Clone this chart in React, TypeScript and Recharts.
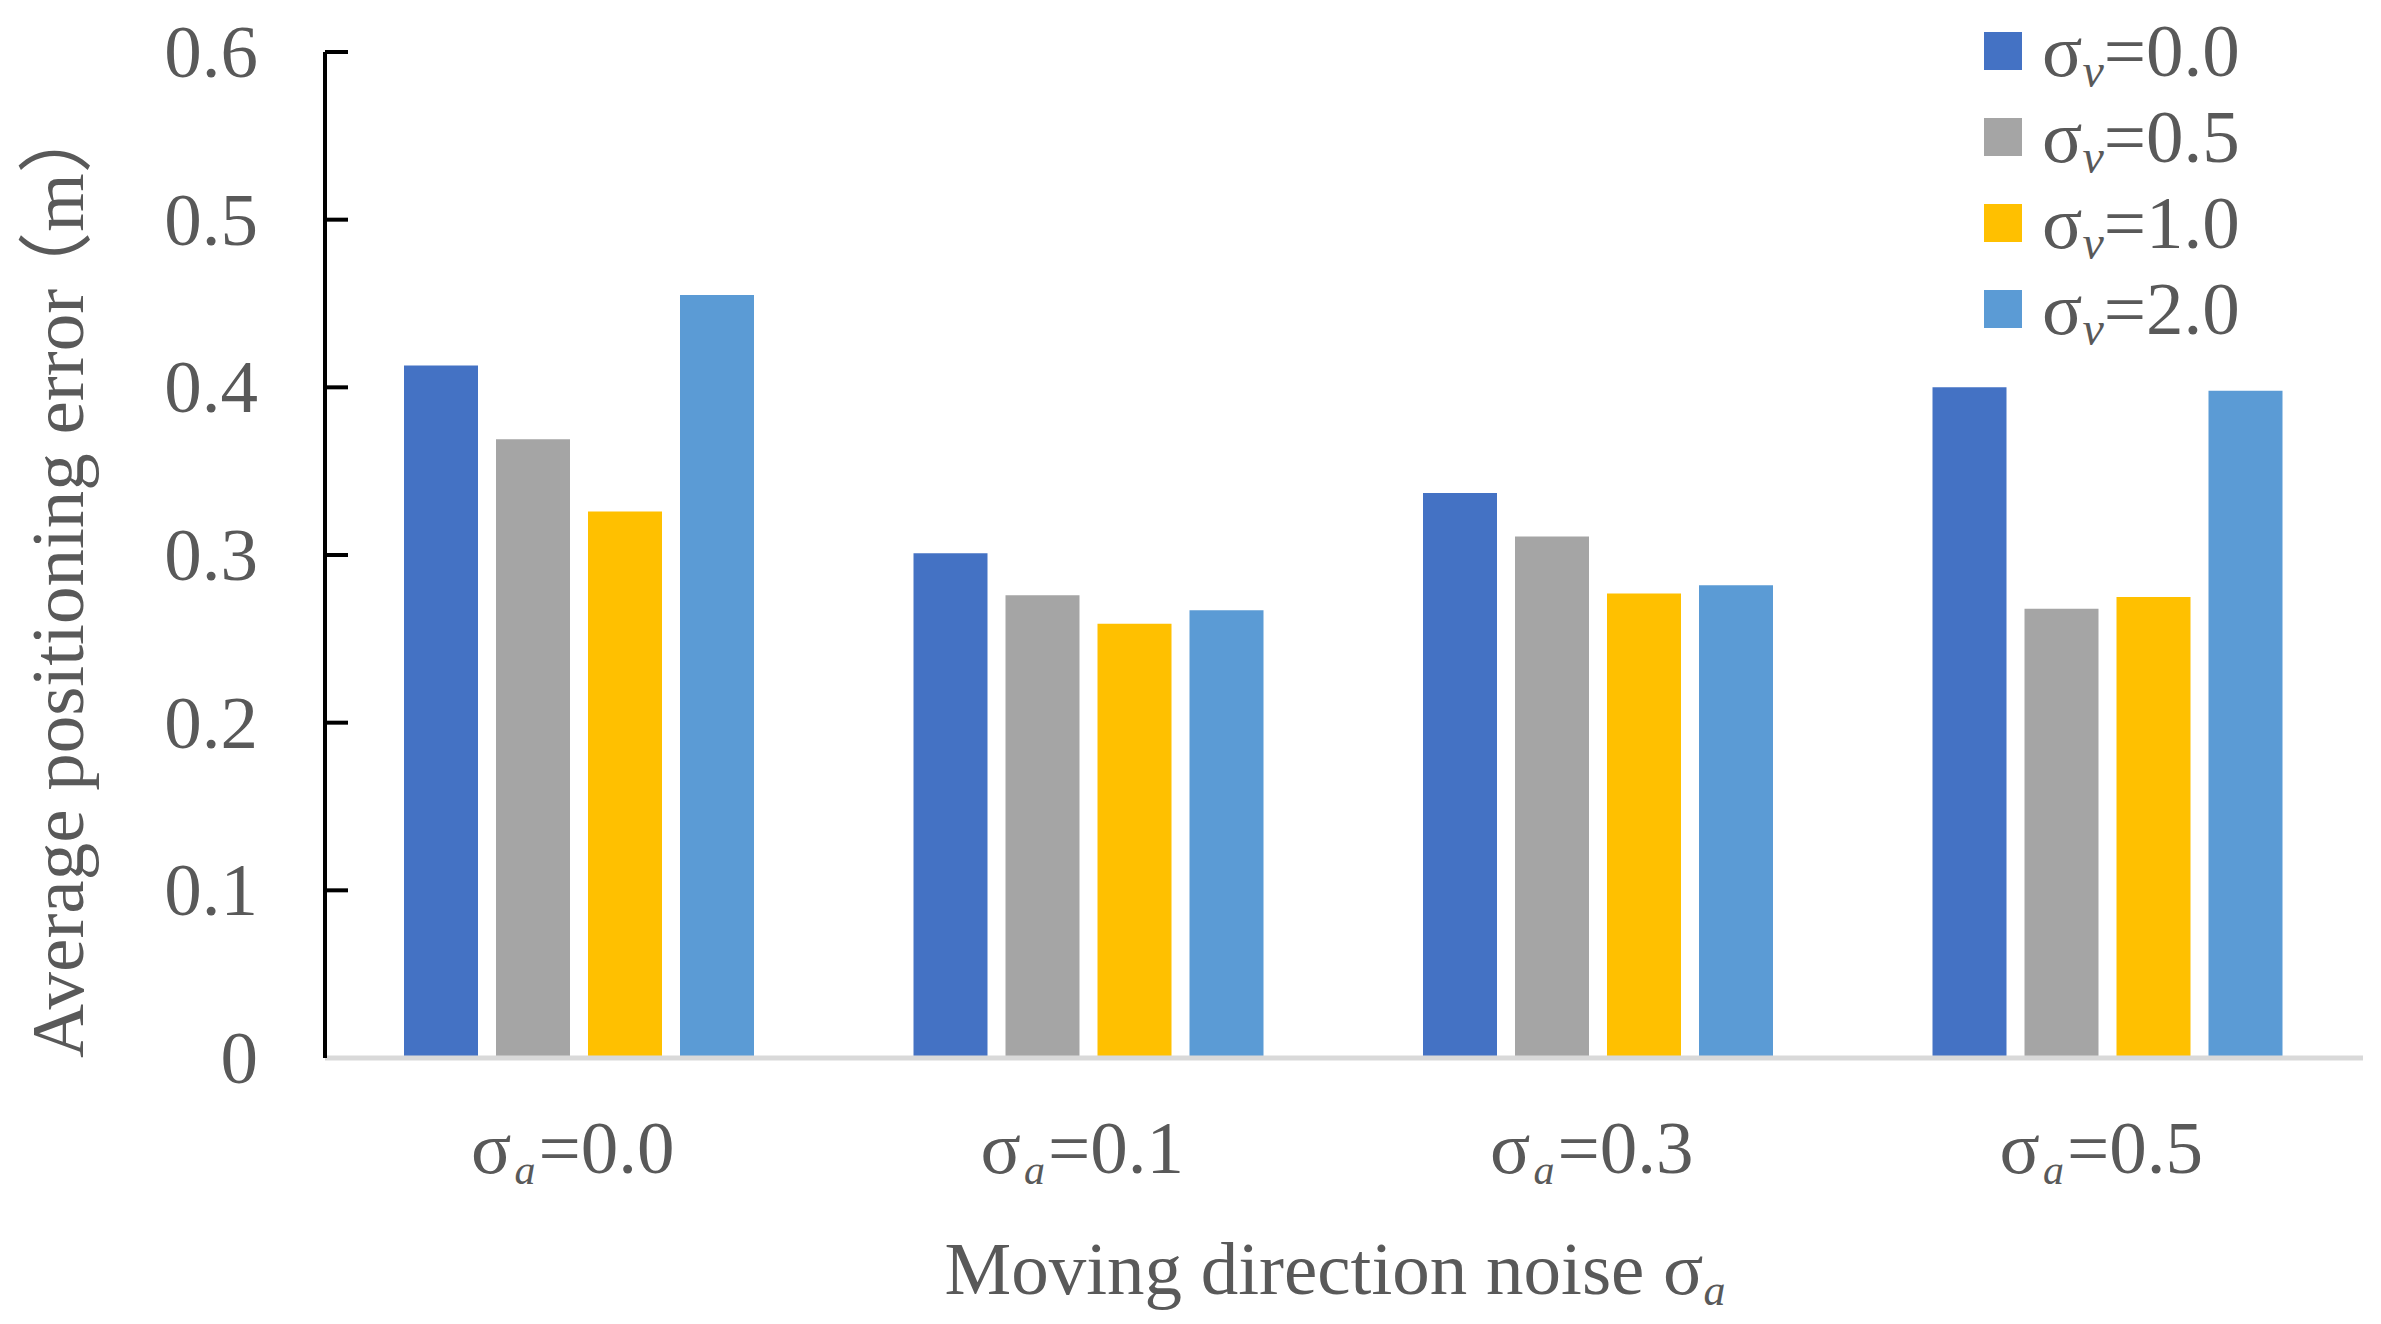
import { BarChart, Bar, XAxis, YAxis, Legend, Label } from "recharts";

const CATEGORIES = ["0.0", "0.1", "0.3", "0.5"];
const SIGMA_V_00 = [0.413, 0.301, 0.337, 0.4];
const SIGMA_V_05 = [0.369, 0.276, 0.311, 0.268];
const SIGMA_V_10 = [0.326, 0.259, 0.277, 0.275];
const SIGMA_V_20 = [0.455, 0.267, 0.282, 0.398];
const SERIES_LABELS = ["0.0", "0.5", "1.0", "2.0"];
const Y_TICKS = [0, 0.1, 0.2, 0.3, 0.4, 0.5, 0.6];

const COLORS = ["#4472C4", "#A5A5A5", "#FFC000", "#5B9BD5"];
const FONT = "'Liberation Serif', 'Times New Roman', 'Noto Sans CJK SC', serif";
const TEXT = "#595959";
const FS = 75;

const data = CATEGORIES.map((name, i) => ({
  name,
  v00: SIGMA_V_00[i],
  v05: SIGMA_V_05[i],
  v10: SIGMA_V_10[i],
  v20: SIGMA_V_20[i],
}));

const Y_TICK_MARGIN = 67;

function YTick(props: any) {
  const { x, y, payload } = props;
  const v = payload.value as number;
  return (
    <g>
      {v !== 0 && (
        <line x1={x + Y_TICK_MARGIN} x2={x + Y_TICK_MARGIN + 23} y1={y} y2={y} stroke="#000" strokeWidth={4} />
      )}
      <text x={x} y={y} dy={25} textAnchor="end" fontFamily={FONT} fontSize={FS} fill={TEXT}>
        {v === 0 ? "0" : v.toFixed(1)}
      </text>
    </g>
  );
}

function XTick(props: any) {
  const { x, y, payload } = props;
  return (
    <text x={x - 7} y={y + 115} textAnchor="middle" fontFamily={FONT} fontSize={FS} fill={TEXT}>
      σ
      <tspan fontStyle="italic" fontSize={42} dx={3} dy={11}>a</tspan>
      <tspan dx={3} dy={-11}>={payload.value}</tspan>
    </text>
  );
}

function XTitle() {
  return (
    <text x={1335} y={1294} textAnchor="middle" fontFamily={FONT} fontSize={FS} fill={TEXT}>
      Moving direction noise σ
      <tspan fontStyle="italic" fontSize={44} dy={11}>a</tspan>
    </text>
  );
}

function YTitle() {
  return (
    <text
      x={83}
      y={1058}
      transform="rotate(-90 83 1058)"
      textAnchor="start"
      fontFamily={FONT}
      fontSize={FS}
      fill={TEXT}
    >
      Average positioning error
      <tspan dx={-18}>（m）</tspan>
    </text>
  );
}

function LegendBox(props: any) {
  const items = props.payload ?? [];
  return (
    <svg width={420} height={360} style={{ display: "block" }}>
      {items.map((it: any, i: number) => (
        <g key={i}>
          <rect x={24} y={32 + i * 86} width={38} height={38} fill={it.color} />
          <text x={82} y={76 + i * 86} fontFamily={FONT} fontSize={FS} fill={TEXT}>
            σ
            <tspan fontStyle="italic" fontSize={48} dy={11}>v</tspan>
            <tspan dy={-11}>={it.value}</tspan>
          </text>
        </g>
      ))}
    </svg>
  );
}

export default function App() {
  return (
    <div style={{ position: "absolute", left: 0, top: 0, background: "#fff" }}>
      <BarChart
        width={2381}
        height={1324}
        data={data}
        margin={{ top: 52, right: 18, left: 0, bottom: 66 }}
        barCategoryGap={79}
        barGap={18}
      >
        <XAxis
          dataKey="name"
          height={200}
          tickSize={0}
          tickMargin={0}
          tickLine={false}
          axisLine={{ stroke: "#D9D9D9", strokeWidth: 5 }}
          tick={<XTick />}
          interval={0}
        >
          <Label content={<XTitle />} />
        </XAxis>
        <YAxis
          width={325}
          domain={[0, 0.6]}
          ticks={Y_TICKS}
          interval={0}
          tickSize={0}
          tickMargin={Y_TICK_MARGIN}
          tickLine={false}
          axisLine={{ stroke: "#000", strokeWidth: 4 }}
          tick={<YTick />}
        >
          <Label content={<YTitle />} />
        </YAxis>
        <Legend
          layout="vertical"
          align="center"
          verticalAlign="middle"
          wrapperStyle={{ left: 1960, top: 0, width: 420, height: 360 }}
          content={<LegendBox />}
        />
        <Bar dataKey="v00" name={SERIES_LABELS[0]} fill={COLORS[0]} isAnimationActive={false} />
        <Bar dataKey="v05" name={SERIES_LABELS[1]} fill={COLORS[1]} isAnimationActive={false} />
        <Bar dataKey="v10" name={SERIES_LABELS[2]} fill={COLORS[2]} isAnimationActive={false} />
        <Bar dataKey="v20" name={SERIES_LABELS[3]} fill={COLORS[3]} isAnimationActive={false} />
      </BarChart>
    </div>
  );
}
